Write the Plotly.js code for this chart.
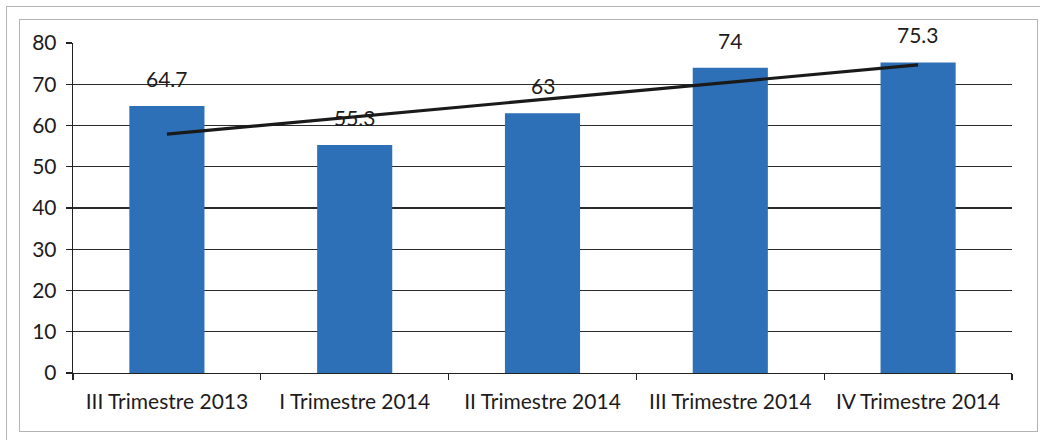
<!DOCTYPE html>
<html>
<head>
<meta charset="utf-8">
<script src="https://cdn.plot.ly/plotly-3.0.1.min.js"></script>
<style>
  html, body { margin: 0; padding: 0; background: #fff; }
  #wrap { position: relative; width: 1040px; height: 440px; overflow: hidden; }
  #chart { position: absolute; left: 0; top: 0; width: 1040px; height: 440px; }
  .frame { position: absolute; pointer-events: none; box-sizing: border-box; }
  #outer { left: 6px; top: 6px; width: 1100px; height: 500px; border: 1.5px solid #b4b4b4; }
  #inner { left: 19px; top: 19px; width: 1019px; height: 413px; border: 1.5px solid #b4b4b4; }
</style>
</head>
<body>
<div id="wrap">
  <div id="chart"></div>
  <div class="frame" id="outer"></div>
  <div class="frame" id="inner"></div>
</div>
<script>
// Data
var categories = ["III Trimestre 2013", "I Trimestre 2014", "II Trimestre 2014", "III Trimestre 2014", "IV Trimestre 2014"];
var values = [64.7, 55.3, 63, 74, 75.3];
var valueLabels = ["64.7", "55.3", "63", "74", "75.3"];
var trendX = ["III Trimestre 2013", "IV Trimestre 2014"];
var trendY = [57.9, 74.7];
var yTicks = [0, 10, 20, 30, 40, 50, 60, 70, 80];

var textColor = "#1e1b1c";
var font = { family: "Lato, 'Open Sans', sans-serif", size: 21, color: textColor };

var bars = {
  type: "bar",
  x: categories,
  y: values,
  marker: { color: "#2e70b8", line: { width: 0 } },
  width: 0.4,
  hoverinfo: "skip"
};

var trend = {
  type: "scatter",
  mode: "lines",
  x: trendX,
  y: trendY,
  line: { color: "#1a1a1a", width: 3.2 },
  hoverinfo: "skip"
};

var annotations = categories.map(function (c, i) {
  return {
    x: c, y: values[i], xref: "x", yref: "y",
    text: valueLabels[i],
    showarrow: false,
    yanchor: "bottom",
    yshift: 13,
    font: font
  };
});

var layout = {
  width: 1040,
  height: 440,
  margin: { l: 73, r: 28, t: 43, b: 67 },
  paper_bgcolor: "#ffffff",
  plot_bgcolor: "#ffffff",
  showlegend: false,
  font: font,
  bargap: 0.6,
  xaxis: {
    type: "category",
    showgrid: false,
    showline: true,
    linecolor: "#222",
    linewidth: 1.3,
    ticks: "outside",
    tickson: "boundaries",
    ticklen: 6,
    tickwidth: 1.3,
    tickcolor: "#222",
    ticklabelstandoff: 9,
    tickfont: font,
    zeroline: false,
    fixedrange: true
  },
  yaxis: {
    range: [0, 80],
    tickmode: "array",
    tickvals: yTicks,
    ticktext: yTicks.map(String),
    showgrid: true,
    gridcolor: "#2a2a2a",
    gridwidth: 1.2,
    showline: true,
    linecolor: "#222",
    linewidth: 1.3,
    ticks: "outside",
    ticklen: 6,
    tickwidth: 1.3,
    tickcolor: "#222",
    ticklabelstandoff: 5,
    tickfont: font,
    zeroline: false,
    fixedrange: true
  },
  annotations: annotations
};

Plotly.newPlot("chart", [bars, trend], layout, { staticPlot: true, displayModeBar: false });
</script>
</body>
</html>
